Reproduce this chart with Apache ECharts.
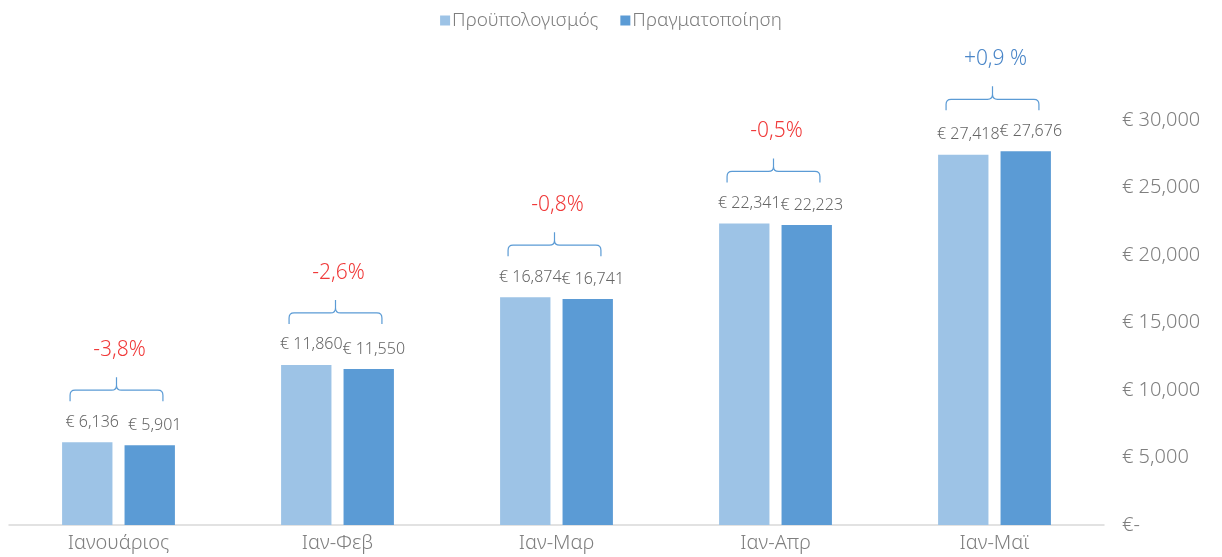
<!DOCTYPE html>
<html>
<head>
<meta charset="utf-8">
<script src="https://cdn.jsdelivr.net/npm/echarts@6/dist/echarts.min.js"></script>
<style>
  html, body { margin: 0; padding: 0; background: #fff; }
  #chart { width: 1222px; height: 557px; }
</style>
</head>
<body>
<div id="chart"></div>
<script>
const categories = ["Ιανουάριος", "Ιαν-Φεβ", "Ιαν-Μαρ", "Ιαν-Απρ", "Ιαν-Μαϊ"]
const budget = [6136, 11860, 16874, 22341, 27418]
const actual = [5901, 11550, 16741, 22223, 27676]
const diffLabels = ["-3,8%", "-2,6%", "-0,8%", "-0,5%", "+0,9 %"]
const yTicks = [0, 5000, 10000, 15000, 20000, 25000, 30000]

const font = "Noto Sans"
const light = 300
const euro = v => "€ " + v.toLocaleString("en-US")

const braceData = categories.map((c, i) => [i, Math.max(budget[i], actual[i])])

const myCharts = echarts.init(document.getElementById("chart"))
myCharts.setOption({
    textStyle: { fontFamily: font, fontWeight: light },
    legend: {
        top: 6,
        left: "center",
        itemWidth: 10,
        itemHeight: 10,
        itemGap: 22,
        icon: "rect",
        textStyle: { color: "#7f7f7f", fontSize: 19, fontFamily: font, fontWeight: light, padding: [0, 0, 0, -3] },
        data: ["Προϋπολογισμός", "Πραγματοποίηση"]
    },
    grid: {
        left: 9,
        right: 118,
        top: 120,
        bottom: 32
    },
    xAxis: {
        type: "category",
        data: categories,
        axisTick: { show: false },
        axisLine: { lineStyle: { color: "#d9d9d9", width: 1.5 } },
        axisLabel: { color: "#7f7f7f", fontSize: 20, margin: 8, fontFamily: font, fontWeight: light }
    },
    yAxis: {
        type: "value",
        position: "right",
        min: yTicks[0],
        max: yTicks[yTicks.length - 1],
        interval: 5000,
        splitLine: { show: false },
        axisLine: { show: false },
        axisTick: { show: false },
        axisLabel: {
            color: "#7f7f7f",
            fontSize: 20,
            margin: 18,
            fontFamily: font,
            fontWeight: light,
            formatter: v => v === 0 ? "€-" : euro(v)
        }
    },
    series: [
        {
            name: "Προϋπολογισμός",
            type: "bar",
            data: budget,
            barWidth: "23%",
            barGap: "24%",
            itemStyle: { color: "#9dc3e6" },
            label: {
                show: true,
                position: "top",
                distance: 12,
                offset: [5, 0],
                color: "#666",
                fontSize: 16,
                fontFamily: font,
                fontWeight: light,
                formatter: p => euro(p.value)
            }
        },
        {
            name: "Πραγματοποίηση",
            type: "bar",
            data: actual,
            barWidth: "23%",
            itemStyle: { color: "#5b9bd5" },
            label: {
                show: true,
                position: "top",
                distance: 12,
                offset: [5, 0],
                color: "#666",
                fontSize: 16,
                fontFamily: font,
                fontWeight: light,
                formatter: p => euro(p.value)
            }
        },
        {
            type: "custom",
            data: braceData,
            silent: true,
            z: 5,
            renderItem: (params, api) => {
                const i = api.value(0)
                const pt = api.coord([i, api.value(1)])
                const band = api.size([1, 0])[0]
                const xc = pt[0] - 2
                const half = band * 0.212
                const x0 = xc - half
                const x1 = xc + half
                const yb = pt[1] - 41
                const yh = yb - 11
                const yt = yh - 13
                const r = 5
                const path =
                    "M" + x0 + "," + yb +
                    " L" + x0 + "," + (yh + r) +
                    " Q" + x0 + "," + yh + " " + (x0 + r) + "," + yh +
                    " L" + (xc - r) + "," + yh +
                    " Q" + xc + "," + yh + " " + xc + "," + (yh - r) +
                    " L" + xc + "," + yt +
                    " M" + xc + "," + (yh - r) +
                    " Q" + xc + "," + yh + " " + (xc + r) + "," + yh +
                    " L" + (x1 - r) + "," + yh +
                    " Q" + x1 + "," + yh + " " + x1 + "," + (yh + r) +
                    " L" + x1 + "," + yb
                const txt = diffLabels[i]
                return {
                    type: "group",
                    children: [
                        {
                            type: "path",
                            shape: { pathData: path },
                            style: { fill: "none", stroke: "#5b9bd5", lineWidth: 1.2 }
                        },
                        {
                            type: "text",
                            x: xc + 3,
                            y: yt - 27,
                            style: {
                                text: txt,
                                fill: txt.charAt(0) === "+" ? "#4a86c8" : "#f03a3a",
                                fontSize: 21,
                                fontFamily: font,
                                fontWeight: light,
                                align: "center",
                                verticalAlign: "middle"
                            }
                        }
                    ]
                }
            }
        }
    ]
})
</script>
</body>
</html>
